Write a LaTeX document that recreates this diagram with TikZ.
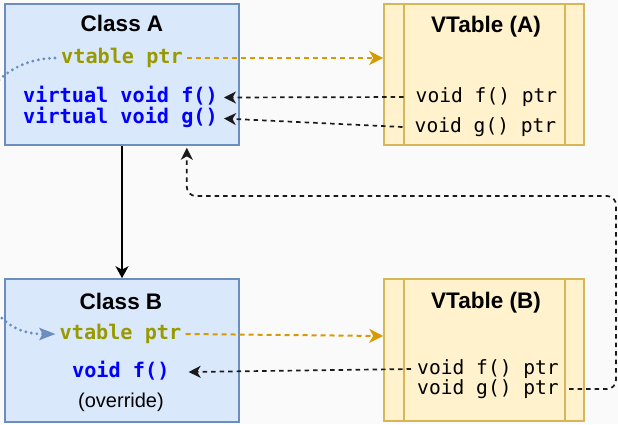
\documentclass[tikz,border=0pt]{standalone}
\usepackage{fontspec}
\setmainfont{Liberation Sans}
\newfontfamily\codefont{DejaVu Sans Mono}
\usetikzlibrary{arrows.meta,calc}
\definecolor{bg}{HTML}{FAFAFA}
\definecolor{clsfill}{HTML}{DAE8FC}
\definecolor{clsstroke}{HTML}{6C8EBF}
\definecolor{vtfill}{HTML}{FFF2CC}
\definecolor{vtstroke}{HTML}{D6B656}
\definecolor{vorange}{HTML}{D79B00}
\definecolor{olive}{HTML}{999900}
\definecolor{codeblue}{HTML}{0000FF}
\definecolor{linkgray}{HTML}{1A1A1A}
\tikzset{
  classbox/.style={draw=clsstroke, fill=clsfill, line width=1.6pt, minimum width=234pt, inner sep=0pt},
  vtbox/.style={draw=vtstroke, fill=vtfill, line width=1.6pt, minimum width=200pt, inner sep=0pt},
  vtline/.style={draw=vtstroke, line width=1.6pt},
  titletext/.style={font=\fontsize{22.5}{27}\selectfont\bfseries, inner sep=0pt, text height=16pt, text depth=0pt},
  ptrtext/.style={font=\codefont\fontsize{20.2}{24}\selectfont\bfseries, text=olive, inner ysep=0pt, inner xsep=4pt, text height=15pt, text depth=5pt},
  codetext/.style={font=\codefont\fontsize{20.2}{24}\selectfont\bfseries, text=codeblue, inner ysep=0pt, inner xsep=6pt, text height=15pt, text depth=5pt},
  entrytext/.style={font=\codefont\fontsize{19.6}{24}\selectfont, text=black, inner ysep=0pt, inner xsep=5pt, text height=15pt, text depth=5pt},
  plaintext/.style={font=\fontsize{20}{24}\selectfont, inner sep=0pt, text height=15pt, text depth=5pt},
  vptrlink/.style={draw=vorange, line width=2pt, dash pattern=on 5pt off 4pt, -{Stealth[length=14pt, width=14pt, inset=4pt]}},
  fnlink/.style={draw=linkgray, line width=1.7pt, dash pattern=on 4.5pt off 4pt, -{Stealth[length=12pt, width=12pt, inset=3.5pt]}},
  inherit/.style={draw=black, line width=1.6pt, -{Stealth[length=12pt, width=13pt, inset=3.5pt]}},
  objlink/.style={draw=clsstroke, line width=3.2pt, line cap=round, dash pattern=on 0pt off 5.6pt},
}
\begin{document}
\begin{tikzpicture}[x=1pt, y=-1pt]
\fill[bg] (0,0) rectangle (618,424);
\useasboundingbox (0,0) rectangle (618,424);

% boxes
\node[classbox, minimum height=141pt] (classA) at (122,74.5) {};
\node[vtbox, minimum height=141pt] (vtA) at (484,74.5) {};
\node[classbox, minimum height=143pt] (classB) at (122,350.5) {};
\node[vtbox, minimum height=142pt] (vtB) at (484,350) {};

\draw[vtline] ($(vtA.north west)+(21,0)$) -- ($(vtA.south west)+(21,0)$);
\draw[vtline] ($(vtA.north east)+(-20,0)$) -- ($(vtA.south east)+(-20,0)$);
\draw[vtline] ($(vtB.north west)+(21,0)$) -- ($(vtB.south west)+(21,0)$);
\draw[vtline] ($(vtB.north east)+(-20,0)$) -- ($(vtB.south east)+(-20,0)$);

% texts of class A
\node[titletext] (titleA) at (122,23) {Class A};
\node[ptrtext] (vpA) at (122,58) {vtable ptr};
\node[codetext] (fA) at (120.5,97.5) {virtual void f()};
\node[codetext] (gA) at (120.5,118.5) {virtual void g()};

% texts of vtable A
\node[titletext] (titleVA) at (486,24) {VTable (A)};
\node[entrytext, inner xsep=12pt] (fvA) at (486.5,97) {void f() ptr};
\node[entrytext, inner xsep=12pt] (gvA) at (485.5,127) {void g() ptr};

% texts of class B
\node[titletext] (titleB) at (121,301) {Class B};
\node[ptrtext] (vpB) at (120.5,334) {vtable ptr};
\node[codetext, inner xsep=19pt] (fB) at (120.8,372) {void f()};
\node[plaintext] (ovr) at (121,402) {(override)};

% texts of vtable B
\node[titletext] (titleVB) at (486,300) {VTable (B)};
\node[entrytext, inner xsep=6pt] (fvB) at (488,369) {void f() ptr};
\node[entrytext, inner xsep=10pt] (gvB) at (488,389) {void g() ptr};

% vtable pointers
\draw[vptrlink] (vpA.east) -- (vpA.east -| vtA.west);
\draw[vptrlink] (vpB.east) -- ($(vtB.west)+(0,-14)$);

% function pointers
\draw[fnlink] (fvA.west) -- (fA.east);
\draw[fnlink] (gvA.west) -- (gA.east);
\draw[fnlink] (fvB.west) -- (fB.east);

% inheritance
\draw[inherit] (classA.south) -- (classB.north);

% g() of B points back to A::g()
\coordinate (rcorner) at (616,196);
\coordinate (gtip) at ($(classA.south west)!0.775!(classA.south east)$);
\draw[fnlink, rounded corners=9pt] (gvB.east) -| (rcorner) -| ($(gtip)+(0,2)$);

% object links coming from the left
\coordinate (dotA) at (-1,80);
\coordinate (dotB) at (-2,314);
\draw[objlink] (dotA) .. controls (15,65) and (35,58) .. (vpA.west);
\draw[objlink, -{Stealth[length=16pt, width=12pt, inset=3pt]}] (dotB) .. controls (10,328) and (25,334) .. (vpB.west);
\end{tikzpicture}
\end{document}
